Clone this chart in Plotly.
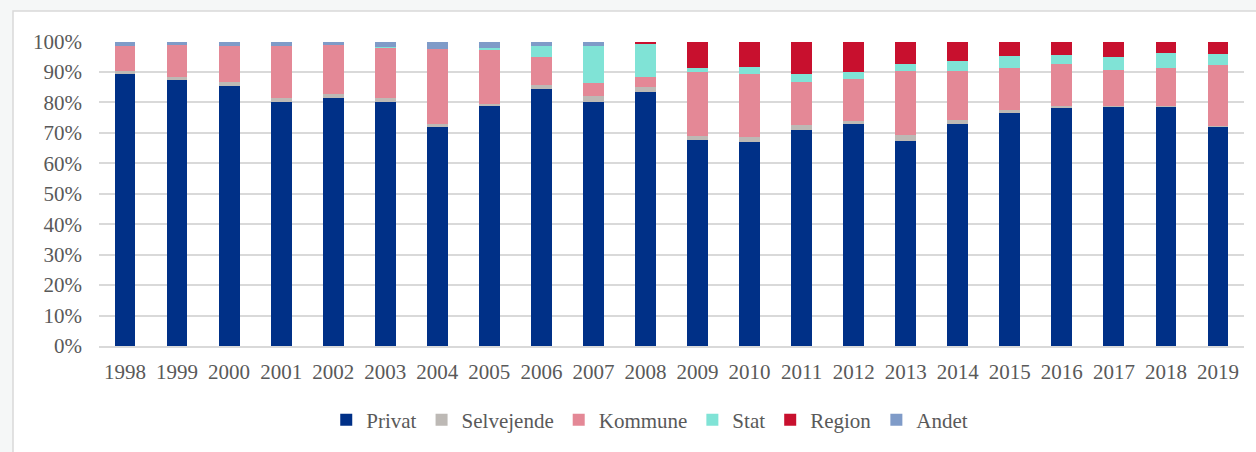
import plotly.graph_objects as go

years = [str(y) for y in range(1998, 2020)]

privat = [89.3, 87.3, 85.5, 80.2, 81.5, 80.3, 71.8, 78.8, 84.4, 80.1, 83.3,
          67.8, 67.1, 70.8, 72.9, 67.3, 73.0, 76.4, 78.5, 78.8, 78.7, 72.1]
selvejende = [1.2, 1.2, 1.2, 1.4, 1.2, 1.1, 1.0, 0.8, 1.2, 2.1, 1.8,
              1.1, 1.4, 1.7, 1.1, 1.9, 1.2, 1.0, 0.2, 0.2, 0.2, 0.2]
kommune = [8.2, 10.3, 11.7, 17.0, 16.2, 16.7, 24.7, 17.8, 9.3, 4.3, 3.4,
           21.0, 20.8, 14.2, 13.6, 21.0, 16.1, 13.9, 13.9, 11.6, 12.5, 19.9]
stat = [0, 0, 0, 0, 0, 0.2, 0, 0.6, 3.6, 12.2, 10.6,
        1.4, 2.3, 2.7, 2.3, 2.5, 3.2, 4.1, 3.0, 4.5, 4.8, 3.8]
region = [0, 0, 0, 0, 0, 0, 0, 0, 0, 0, 0.9,
          8.7, 8.4, 10.6, 10.1, 7.3, 6.5, 4.6, 4.4, 4.9, 3.8, 4.0]
andet = [1.3, 1.2, 1.6, 1.4, 1.1, 1.7, 2.5, 2.0, 1.5, 1.3, 0,
         0, 0, 0, 0, 0, 0, 0, 0, 0, 0, 0]

series = [
    ("Privat", privat, "#003087"),
    ("Selvejende", selvejende, "#bdb9b5"),
    ("Kommune", kommune, "#e48896"),
    ("Stat", stat, "#80e3d6"),
    ("Region", region, "#c8102e"),
    ("Andet", andet, "#7f9bc8"),
]

fig = go.Figure()
for name, vals, color in series:
    fig.add_trace(go.Bar(x=years, y=vals, name=name,
                         marker=dict(color=color, line=dict(width=0))))

font = dict(family="Liberation Serif", color="#595959")

fig.update_layout(
    width=1256, height=452,
    barmode="stack", barnorm="percent", bargap=0.6,
    paper_bgcolor="#f5f7f7",
    plot_bgcolor="rgba(0,0,0,0)",
    margin=dict(l=99, r=12, t=41, b=106),
    font=dict(size=21, **font),
    xaxis=dict(showline=True, linecolor="#d9d9d9", linewidth=1.5,
               ticks="", ticklabelstandoff=6, tickfont=dict(size=21, **font)),
    yaxis=dict(range=[0, 100.2], dtick=10, ticksuffix="%",
               showgrid=True, gridcolor="#d9d9d9", gridwidth=1.5,
               zeroline=False, ticks="", ticklabelstandoff=16,
               tickfont=dict(size=21, **font)),
    legend=dict(orientation="h", traceorder="normal",
                x=0.481, xanchor="center", y=-0.243, yanchor="middle",
                font=dict(size=21, **font), bgcolor="rgba(0,0,0,0)"),
    shapes=[dict(type="rect", xref="paper", yref="paper",
                 x0=-0.0751, x1=1.2, y0=-1, y1=1.0984,
                 fillcolor="white", line=dict(color="#d9d9d9", width=1.5),
                 layer="below")],
)

fig.write_html("out.html", config={"displayModeBar": False},
               post_script="document.body.style.margin='0';")
